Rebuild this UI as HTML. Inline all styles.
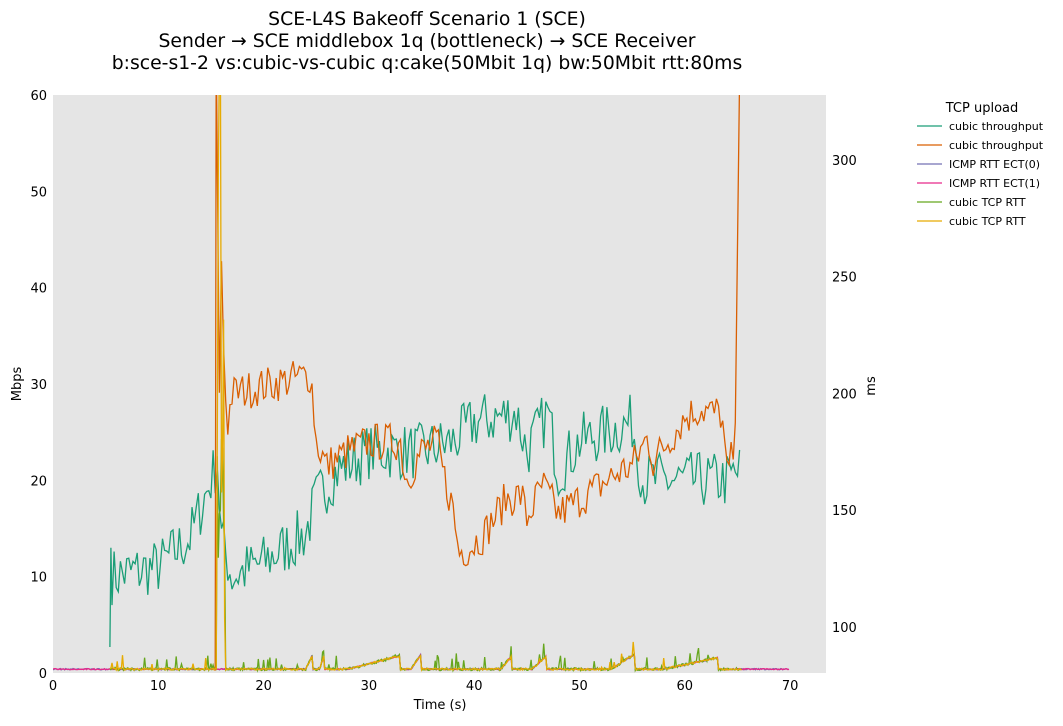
<!DOCTYPE html><html><head><meta charset="utf-8"><style>
body{margin:0;background:#fff;font-family:"Liberation Sans","DejaVu Sans",sans-serif}
svg text{font-family:"DejaVu Sans","Liberation Sans",sans-serif}
</style></head><body>
<svg id="s" width="1063" height="721" xmlns="http://www.w3.org/2000/svg">
<rect x="53" y="95" width="773" height="578" fill="#e5e5e5"/>
<g font-size="18.8" text-anchor="middle" fill="#000">
<text x="427" y="25">SCE-L4S Bakeoff Scenario 1 (SCE)</text>
<text x="427" y="47">Sender → SCE middlebox 1q (bottleneck) → SCE Receiver</text>
<text x="427" y="69">b:sce-s1-2 vs:cubic-vs-cubic q:cake(50Mbit 1q) bw:50Mbit rtt:80ms</text>
</g>
<g font-size="13" fill="#000" id="ticks"></g>
<text x="440" y="709" font-size="13" text-anchor="middle">Time (s)</text>
<text transform="translate(21,384) rotate(-90)" font-size="13" text-anchor="middle">Mbps</text>
<text transform="translate(875,386) rotate(-90)" font-size="13" text-anchor="middle">ms</text>
<g id="lines" fill="none" stroke-width="1.3" clip-path="url(#c)"></g>
<clipPath id="c"><rect x="53" y="95" width="773" height="578"/></clipPath>
<text x="982" y="112" font-size="13" text-anchor="middle">TCP upload</text>
<g font-size="11" id="leg"></g>
</svg>
<script>
var s=document.getElementById('s'),NS='http://www.w3.org/2000/svg';
function X(t){return 53+t*10.53}function Y(v){return 673-v*9.633}
function R(ms){return 673.6-(ms-80)*2.335}
var tk=document.getElementById('ticks'),h='';
for(var i=0;i<=70;i+=10)h+='<text x="'+X(i)+'" y="690" text-anchor="middle">'+i+'</text>';
for(var i=0;i<=60;i+=10)h+='<text x="47" y="'+(Y(i)+5)+'" text-anchor="end">'+i+'</text>';
for(var i=100;i<=300;i+=50)h+='<text x="832" y="'+(R(i)+5)+'">'+i+'</text>';
tk.innerHTML=h;
var seed=7;function rnd(){seed=(seed*16807)%2147483647;return seed/2147483647}
function interp(k,t){for(var i=0;i<k.length-1;i++){if(t<=k[i+1][0]){var a=k[i],b=k[i+1];return a[1]+(b[1]-a[1])*(t-a[0])/(b[0]-a[0])}}return k[k.length-1][1]}
function series(k,t0,t1,dt,amp){var p=[];for(var t=t0;t<=t1;t+=dt){p.push([t,interp(k,t)+(rnd()-0.5)*2*amp])}return p}
var L=document.getElementById('lines');
function draw(pts,col,fy){var d='';pts.forEach(function(p,i){d+=(i?'L':'M')+X(p[0]).toFixed(1)+','+fy(p[1]).toFixed(1)});var e=document.createElementNS(NS,'path');e.setAttribute('d',d);e.setAttribute('stroke',col);L.appendChild(e)}
var g=series([[5.4,10],[10,11],[13,14],[15,20],[15.6,22],[16,14],[17,10],[20,11.5],[24,14.5],[25,18],[27,21],[30,23],[35,23],[38,24],[40,26],[44,27],[45,23],[47,27],[48,21],[50,24],[55,26],[56,20],[64,20],[65.3,21]],5.6,65.3,0.2,3);
g.unshift([5.4,2.7],[5.5,13]);draw(g,'#1b9e77',Y);
var o=series([[15.4,0],[15.6,65],[15.8,30],[16,42],[16.3,30],[16.6,26],[17,29],[24.5,31],[25,24],[26,21.5],[28,23],[30,24],[33,24],[33.5,20],[35,23],[36.5,24],[37,21],[38,17],[38.5,12.6],[39.5,13],[41,14.5],[43,18],[44.5,18.5],[45,16],[46.5,19.5],[48,16.5],[50,18],[52,19.5],[54,21],[55,21.5],[56.5,24.5],[57,22],[60,26.5],[61.5,27.5],[62.5,27],[63.5,27],[64,20.5],[64.5,22.5],[65,25]],15.4,65,0.2,2);
o[1]=[15.5,65];o.push([65.2,62]);draw(o,'#d95f02',Y);
var ramps=[[28,0.4,33,1.8],[34,0.4,35,2],[42.5,0.4,43.6,1.8],[45.5,0.4,46.9,1.8],[53,0.4,55.3,2],[58,0.4,63.2,1.6],[24,0.4,24.7,2],[25.3,0.4,25.8,2]];
function rtt(t){var v=0.4;ramps.forEach(function(r){if(t>=r[0]&&t<=r[2])v=Math.max(v,r[1]+(r[3]-r[1])*(t-r[0])/(r[2]-r[0]))});return v}
function rs(t0,t1,col,sp,amp,big){var p=[];for(var t=t0;t<=t1;t+=0.1){var v=rtt(t)+(rnd()-0.5)*amp;if(rnd()<sp)v+=rnd()*1.5;if(big&&t>15.5&&t<16.3)v=5+rnd()*(big);p.push([t,v])}draw(p,col,Y)}
rs(0,70,'#7570b3',0,0.15,0);rs(0,70,'#e7298a',0,0.12,0);rs(5.4,65.5,'#66a61e',0.1,0.3,20);rs(5.4,65.5,'#e6ab02',0.02,0.2,60);
var cols=['#1b9e77','#d95f02','#7570b3','#e7298a','#66a61e','#e6ab02'],nm=['cubic throughput','cubic throughput','ICMP RTT ECT(0)','ICMP RTT ECT(1)','cubic TCP RTT','cubic TCP RTT'],lh='';
cols.forEach(function(c,i){var y=126+i*19;lh+='<line x1="917" x2="942" y1="'+y+'" y2="'+y+'" stroke="'+c+'" stroke-width="1.3"/><text x="949" y="'+(y+4)+'">'+nm[i]+'</text>'});
document.getElementById('leg').innerHTML=lh;
</script>
</body></html>
